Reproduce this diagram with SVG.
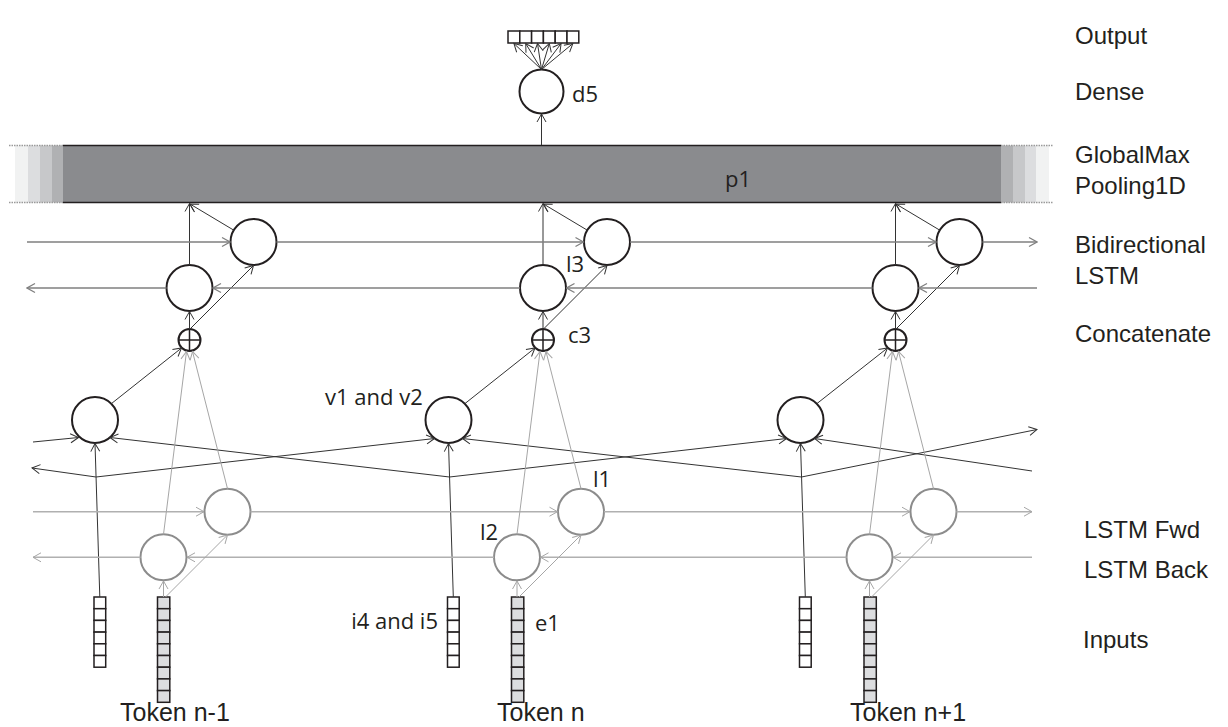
<svg xmlns="http://www.w3.org/2000/svg" width="1228" height="727" viewBox="0 0 1228 727">
<defs>
<style>
.lbl{font-family:"Liberation Sans",Arial,sans-serif;font-size:24px;fill:#231f20}
.tok{font-family:"Liberation Sans",Arial,sans-serif;font-size:25px;fill:#231f20}
.nl{font-family:"Open Sans","Liberation Sans",sans-serif;font-size:22px;fill:#231f20}
.cd{fill:#fff;stroke:#231f20;stroke-width:2}
.cg{fill:#fff;stroke:#8c8c8c;stroke-width:2}
.ld{fill:none;stroke:#333;stroke-width:1}
.lm{fill:none;stroke:#7f7f7f;stroke-width:1.5}
.lg{fill:none;stroke:#b0b0b0;stroke-width:1.5}
.lt{fill:none;stroke:#a6a6a6;stroke-width:1}
.bw{fill:#fff;stroke:#231f20;stroke-width:1.5}
.bg{fill:#dcdddf;stroke:#231f20;stroke-width:1.5}
</style>
<marker id="ad" viewBox="-9 -6 10 12" refX="0" refY="0" markerWidth="10" markerHeight="12" orient="auto" markerUnits="userSpaceOnUse"><path d="M-8,-4.5 L0,0 L-8,4.5" fill="none" stroke="#333" stroke-width="1"/></marker>
<marker id="am" viewBox="-9 -6 10 12" refX="0" refY="0" markerWidth="10" markerHeight="12" orient="auto" markerUnits="userSpaceOnUse"><path d="M-8,-4.5 L0,0 L-8,4.5" fill="none" stroke="#7f7f7f" stroke-width="1.2"/></marker>
<marker id="ag" viewBox="-9 -6 10 12" refX="0" refY="0" markerWidth="10" markerHeight="12" orient="auto" markerUnits="userSpaceOnUse"><path d="M-8,-4.5 L0,0 L-8,4.5" fill="none" stroke="#a6a6a6" stroke-width="1"/></marker>
</defs>
<rect width="1228" height="727" fill="#fff"/>

<!-- Pooling bar -->
<g id="p1">
<rect x="15" y="145.5" width="13" height="57" fill="#f1f2f2"/>
<rect x="28" y="145.5" width="12" height="57" fill="#dcdddf"/>
<rect x="40" y="145.5" width="12" height="57" fill="#c7c8ca"/>
<rect x="52" y="145.5" width="11" height="57" fill="#b0b1b3"/>
<rect x="63" y="145.5" width="938" height="57" fill="#8a8b8e"/>
<rect x="1001" y="145.5" width="12" height="57" fill="#b0b1b3"/>
<rect x="1013" y="145.5" width="12" height="57" fill="#c7c8ca"/>
<rect x="1025" y="145.5" width="11" height="57" fill="#dcdddf"/>
<rect x="1036" y="145.5" width="13" height="57" fill="#f1f2f2"/>
<path d="M63,145.5 H1001 M63,202.5 H1001" stroke="#231f20" stroke-width="1.5"/>
<path d="M9,145.5 H63 M9,202.5 H63 M1001,145.5 H1053 M1001,202.5 H1053" stroke="#9a9a9a" stroke-width="1.5" stroke-dasharray="1.5 1"/>
<text class="nl" x="725" y="187">p1</text>
</g>

<!-- Output -->
<g id="output">
<rect class="bw" x="508" y="31" width="11.8" height="12"/>
<rect class="bw" x="519.8" y="31" width="11.8" height="12"/>
<rect class="bw" x="531.6" y="31" width="11.8" height="12"/>
<rect class="bw" x="543.4" y="31" width="11.8" height="12"/>
<rect class="bw" x="555.2" y="31" width="11.8" height="12"/>
<rect class="bw" x="567" y="31" width="11.8" height="12"/>
</g>
<g id="d5">
<circle class="cd" cx="541.5" cy="91.5" r="22"/>
<text class="nl" x="572" y="101.5">d5</text>
</g>

<!-- Bi-LSTM nodes -->
<g id="bilstm1">
<circle class="cd" cx="189.5" cy="288" r="23"/>
<circle class="cd" cx="253.5" cy="242" r="23"/>
</g>
<g id="bilstm2">
<circle class="cd" cx="543" cy="288" r="23"/>
<circle class="cd" cx="607" cy="242" r="23"/>
<text class="nl" x="566" y="272">l3</text>
</g>
<g id="bilstm3">
<circle class="cd" cx="895.5" cy="288" r="23"/>
<circle class="cd" cx="959.5" cy="242" r="23"/>
</g>

<!-- Concatenate -->
<g id="concat1"><circle class="cd" cx="189.5" cy="340" r="11"/><path d="M178.5,340 H200.5 M189.5,329 V351" stroke="#231f20" stroke-width="1.5"/></g>
<g id="concat2"><circle class="cd" cx="543" cy="340" r="11"/><path d="M532,340 H554 M543,329 V351" stroke="#231f20" stroke-width="1.5"/><text class="nl" x="568" y="343">c3</text></g>
<g id="concat3"><circle class="cd" cx="895.5" cy="340" r="11"/><path d="M884.5,340 H906.5 M895.5,329 V351" stroke="#231f20" stroke-width="1.5"/></g>

<!-- Dense (v1 and v2) -->
<g id="dense1"><circle class="cd" cx="95" cy="420" r="23"/></g>
<g id="dense2"><circle class="cd" cx="448.5" cy="420" r="23"/><text class="nl" x="325" y="405">v1 and v2</text></g>
<g id="dense3"><circle class="cd" cx="800.5" cy="420" r="23"/></g>

<!-- Lower LSTM -->
<g id="lstm1"><circle class="cg" cx="227.5" cy="511.7" r="23"/><circle class="cg" cx="163.5" cy="557.3" r="23"/></g>
<g id="lstm2"><circle class="cg" cx="581" cy="511.7" r="23"/><circle class="cg" cx="517" cy="557.3" r="23"/><text class="nl" x="593" y="487">l1</text><text class="nl" x="480" y="540">l2</text></g>
<g id="lstm3"><circle class="cg" cx="933.5" cy="511.7" r="23"/><circle class="cg" cx="869.5" cy="557.3" r="23"/></g>

<!-- Inputs -->
<g id="input1">
<rect class="bw" x="94" y="597" width="11.7" height="11.7"/><rect class="bw" x="94" y="608.7" width="11.7" height="11.7"/><rect class="bw" x="94" y="620.4" width="11.7" height="11.7"/><rect class="bw" x="94" y="632.1" width="11.7" height="11.7"/><rect class="bw" x="94" y="643.8" width="11.7" height="11.7"/><rect class="bw" x="94" y="655.5" width="11.7" height="11.7"/>
</g>
<g id="emb1">
<rect class="bg" x="157.5" y="597" width="12.3" height="11.7"/><rect class="bg" x="157.5" y="608.7" width="12.3" height="11.7"/><rect class="bg" x="157.5" y="620.4" width="12.3" height="11.7"/><rect class="bg" x="157.5" y="632.1" width="12.3" height="11.7"/><rect class="bg" x="157.5" y="643.8" width="12.3" height="11.7"/><rect class="bg" x="157.5" y="655.5" width="12.3" height="11.7"/><rect class="bg" x="157.5" y="667.2" width="12.3" height="11.7"/><rect class="bg" x="157.5" y="678.9" width="12.3" height="11.7"/><rect class="bg" x="157.5" y="690.6" width="12.3" height="11.7"/>
</g>
<g id="input2">
<rect class="bw" x="447.5" y="597" width="11.7" height="11.7"/><rect class="bw" x="447.5" y="608.7" width="11.7" height="11.7"/><rect class="bw" x="447.5" y="620.4" width="11.7" height="11.7"/><rect class="bw" x="447.5" y="632.1" width="11.7" height="11.7"/><rect class="bw" x="447.5" y="643.8" width="11.7" height="11.7"/><rect class="bw" x="447.5" y="655.5" width="11.7" height="11.7"/>
<text class="nl" x="438" y="629" text-anchor="end">i4 and i5</text>
</g>
<g id="emb2">
<rect class="bg" x="511.5" y="597" width="12.3" height="11.7"/><rect class="bg" x="511.5" y="608.7" width="12.3" height="11.7"/><rect class="bg" x="511.5" y="620.4" width="12.3" height="11.7"/><rect class="bg" x="511.5" y="632.1" width="12.3" height="11.7"/><rect class="bg" x="511.5" y="643.8" width="12.3" height="11.7"/><rect class="bg" x="511.5" y="655.5" width="12.3" height="11.7"/><rect class="bg" x="511.5" y="667.2" width="12.3" height="11.7"/><rect class="bg" x="511.5" y="678.9" width="12.3" height="11.7"/><rect class="bg" x="511.5" y="690.6" width="12.3" height="11.7"/>
<text class="nl" x="535" y="631">e1</text>
</g>
<g id="input3">
<rect class="bw" x="799.5" y="597" width="11.7" height="11.7"/><rect class="bw" x="799.5" y="608.7" width="11.7" height="11.7"/><rect class="bw" x="799.5" y="620.4" width="11.7" height="11.7"/><rect class="bw" x="799.5" y="632.1" width="11.7" height="11.7"/><rect class="bw" x="799.5" y="643.8" width="11.7" height="11.7"/><rect class="bw" x="799.5" y="655.5" width="11.7" height="11.7"/>
</g>
<g id="emb3">
<rect class="bg" x="864" y="597" width="12.3" height="11.7"/><rect class="bg" x="864" y="608.7" width="12.3" height="11.7"/><rect class="bg" x="864" y="620.4" width="12.3" height="11.7"/><rect class="bg" x="864" y="632.1" width="12.3" height="11.7"/><rect class="bg" x="864" y="643.8" width="12.3" height="11.7"/><rect class="bg" x="864" y="655.5" width="12.3" height="11.7"/><rect class="bg" x="864" y="667.2" width="12.3" height="11.7"/><rect class="bg" x="864" y="678.9" width="12.3" height="11.7"/><rect class="bg" x="864" y="690.6" width="12.3" height="11.7"/>
</g>

<!-- Connectors -->
<g id="connectors">
<g class="ld" marker-end="url(#ad)">
<path d="M541.5,69.5 L513.9,43.5"/><path d="M541.5,69.5 L525.7,43.5"/><path d="M541.5,69.5 L537.5,43.5"/><path d="M541.5,69.5 L549.3,43.5"/><path d="M541.5,69.5 L561.1,43.5"/><path d="M541.5,69.5 L572.9,43.5"/>
<path d="M541.5,145 L541.5,114"/>
</g>
<g class="ld" marker-end="url(#ad)">
<path d="M189.5,265 V203.5"/><path d="M233.8,230.2 L190,204"/><path d="M189.5,329 V311.5"/><path d="M191,328 L253.5,265.5"/>
<path d="M543,265 V203.5"/><path d="M587.3,230.2 L543.5,204"/><path d="M543,329 V311.5"/><path d="M544.5,328 L607,265.5"/>
<path d="M895.5,265 V203.5"/><path d="M939.8,230.2 L896,204"/><path d="M895.5,329 V311.5"/><path d="M897,328 L959.5,265.5"/>
</g>
<g class="lm" marker-end="url(#am)">
<path d="M27,242 H230"/><path d="M276.5,242 H583.5"/><path d="M630,242 H936"/><path d="M982.5,242 H1037"/>
<path d="M1037,288 H919"/><path d="M872.5,288 H566.5"/><path d="M520,288 H213"/><path d="M166.5,288 H27"/>
</g>
<g class="ld" marker-end="url(#ad)">
<path d="M111.3,403.7 L181.5,348"/><path d="M464.8,403.7 L535,348"/><path d="M816.8,403.7 L887.5,348"/>
</g>
<g class="ld" marker-end="url(#ad)">
<path d="M99.8,597 L95,443.5"/><path d="M453.3,597 L448.5,443.5"/><path d="M805.3,597 L800.5,443.5"/>
</g>
<g class="ld" marker-end="url(#ad)">
<path d="M33,442 L78.5,437.5"/>
<path d="M96,477 L434.5,438.5"/>
<path d="M449.5,477 L786.5,438.5"/>
<path d="M801.5,477 L1037,429.5"/>
<path d="M1032,471 L814.5,438.5"/>
<path d="M801.5,477 L462.5,438.5"/>
<path d="M449.5,477 L110,437.5"/>
<path d="M96,477 L32,468"/>
</g>
<g class="lg" marker-end="url(#ag)">
<path d="M33,511.7 H204"/><path d="M250.5,511.7 H557.5"/><path d="M604,511.7 H910"/><path d="M956.5,511.7 H1032"/>
<path d="M1032,557.3 H893"/><path d="M846.5,557.3 H540.5"/><path d="M494,557.3 H187"/><path d="M140.5,557.3 H33"/>
</g>
<g class="lt" marker-end="url(#ag)">
<path d="M163.5,597 V581"/><path d="M165.5,597 L227.5,535"/>
<path d="M517,597 V581"/><path d="M519,597 L581,535"/>
<path d="M869.5,597 V581"/><path d="M871.5,597 L933.5,535"/>
<path d="M163.5,534.3 L186.5,351.5"/><path d="M227.5,488.7 L192.5,351.5"/>
<path d="M517,534.3 L540,351.5"/><path d="M581,488.7 L546,351.5"/>
<path d="M869.5,534.3 L892.5,351.5"/><path d="M933.5,488.7 L898.5,351.5"/>
</g>
</g>

<!-- Layer labels -->
<g id="layer-labels">
<text class="lbl" x="1075" y="44">Output</text>
<text class="lbl" x="1075" y="100">Dense</text>
<text class="lbl" x="1075" y="163">GlobalMax</text>
<text class="lbl" x="1075" y="194">Pooling1D</text>
<text class="lbl" x="1075" y="253">Bidirectional</text>
<text class="lbl" x="1075" y="284">LSTM</text>
<text class="lbl" x="1075" y="342">Concatenate</text>
<text class="lbl" x="1084" y="538">LSTM Fwd</text>
<text class="lbl" x="1084" y="578">LSTM Back</text>
<text class="lbl" x="1083" y="648">Inputs</text>
<text class="tok" x="120" y="721">Token n-1</text>
<text class="tok" x="497" y="721">Token n</text>
<text class="tok" x="850" y="721">Token n+1</text>
</g>
</svg>
